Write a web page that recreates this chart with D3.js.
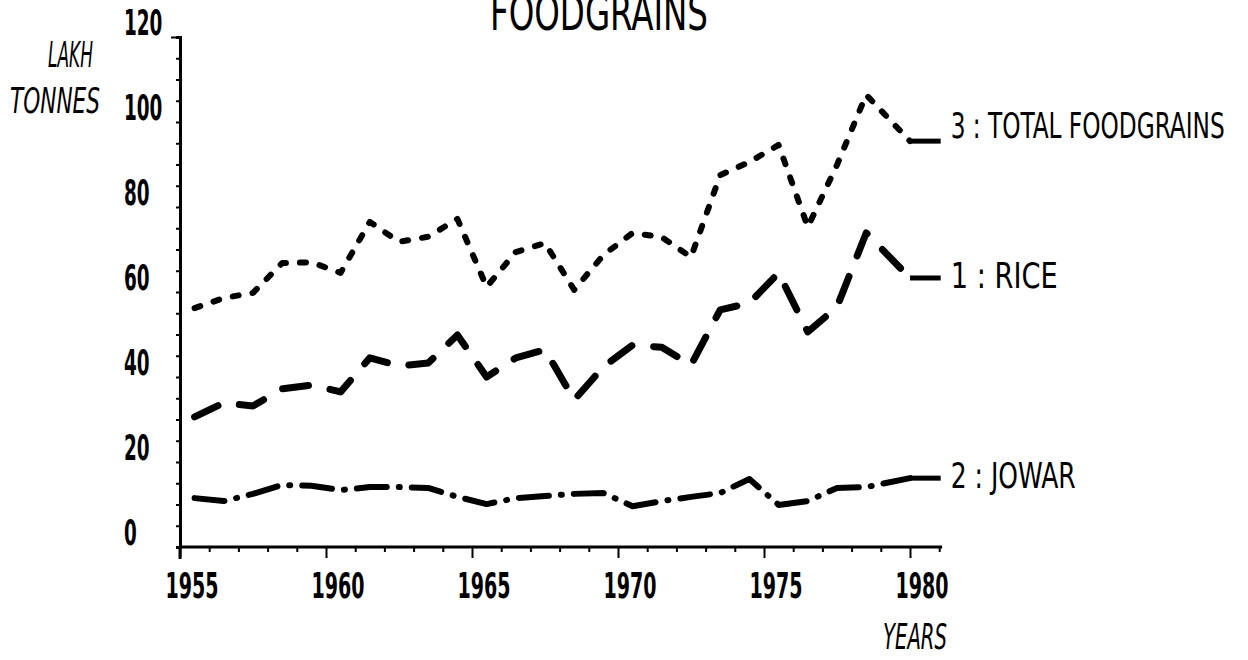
<!DOCTYPE html>
<html>
<head>
    <title>Foodgrains</title>
    <script src="https://d3js.org/d3.v7.min.js"></script>
    <style>
        body { margin: 0; background: #fff; }
        svg text { font-family: "Liberation Sans Narrow", "DejaVu Sans Condensed", "Roboto", sans-serif; fill: #000; }
    </style>
</head>
<body>
    <div id="chart"></div>
    <script>
        // crop years (plotted at mid-year), last one at 1980
        const years = [1955.5, 1956.5, 1957.5, 1958.5, 1959.5, 1960.5, 1961.5, 1962.5, 1963.5, 1964.5,
            1965.5, 1966.5, 1967.5, 1968.5, 1969.5, 1970.5, 1971.5, 1972.5, 1973.5, 1974.5,
            1975.5, 1976.5, 1977.5, 1978.5, 1980];
        const rice = [30.6, 33.9, 33.2, 37.2, 38.1, 36.5, 44.5, 42.6, 43.3, 49.9,
            40, 44.5, 46.4, 34.6, 42.4, 47.5, 47, 42.8, 55.8, 57.4,
            64.5, 50.6, 56.5, 73.9, 63.3];
        const jowar = [11.5, 10.8, 12.5, 14.6, 14.4, 13.4, 14.1, 14.1, 13.9, 11.8,
            10.1, 11.5, 12, 12.5, 12.7, 9.6, 10.8, 11.8, 12.7, 16,
            9.9, 10.8, 13.9, 14.1, 16.2];
        const total = [56.2, 58.6, 59.8, 66.8, 67, 64.5, 76.5, 71.8, 73, 77.2,
            61.2, 69.4, 71.5, 60.5, 68.7, 73.9, 72.9, 68.2, 87.5, 90.6,
            94.6, 75.3, 89.9, 106.4, 95.5];
        const seriesLabels = ["1 : RICE", "2 : JOWAR", "3 : TOTAL FOODGRAINS"];
        const yTicks = [0, 20, 40, 60, 80, 100, 120];
        const xTicks = [1955, 1960, 1965, 1970, 1975, 1980];

        const W = 1248, H = 660;
        const svg = d3.select("#chart").append("svg")
            .attr("width", W).attr("height", H);

        const x = d3.scaleLinear().domain([1955, 1980]).range([180, 910]);
        const y = d3.scaleLinear().domain([0, 120]).range([547, 37]);

        // condensed plotter-ish text, width forced with textLength
        function label(str, px, py, size, width, opts) {
            opts = opts || {};
            return svg.append("text")
                .attr("x", px).attr("y", py)
                .attr("font-size", size)
                .attr("font-weight", opts.weight || "normal")
                .attr("font-style", opts.italic ? "italic" : "normal")
                .attr("text-anchor", opts.anchor || "start")
                .attr("dominant-baseline", opts.baseline || "middle")
                .attr("textLength", width)
                .attr("lengthAdjust", "spacingAndGlyphs")
                .text(str);
        }

        // title, cut off at the top like the scan
        label("FOODGRAINS", 599, 30, 50, 218, { anchor: "middle", baseline: "alphabetic" });

        // y axis
        const yAxis = d3.axisLeft(y)
            .tickValues(d3.range(0, 121, 5))
            .tickSize(4)
            .tickFormat("");
        const gy = svg.append("g").attr("transform", "translate(180,0)").call(yAxis);
        gy.select(".domain").attr("stroke", "#000").attr("stroke-width", 3);
        gy.selectAll(".tick line").attr("stroke", "#000").attr("stroke-width", 2);
        gy.selectAll(".tick").filter(d => d === 120).select("line").attr("x2", -9);
        svg.append("line")
            .attr("x1", 180).attr("x2", 180)
            .attr("y1", y(0)).attr("y2", y(0) + 12)
            .attr("stroke", "#000").attr("stroke-width", 3);

        yTicks.forEach(v => {
            const s = String(v);
            label(s, 124, y(v) - 12, 36, s.length * 12.8, { weight: "bold" });
        });

        // x axis
        const yearTicks = d3.range(1955, 1982, 1);
        const xAxis = d3.axisBottom(x)
            .tickValues(yearTicks)
            .tickSize(5)
            .tickFormat("");
        const gx = svg.append("g").attr("transform", `translate(0,${y(0)})`).call(xAxis);
        gx.select(".domain").attr("d", `M180,0H${x(1981.1)}`)
            .attr("stroke", "#000").attr("stroke-width", 3);
        gx.selectAll(".tick line").attr("stroke", "#000").attr("stroke-width", 2)
            .attr("y2", d => d % 5 === 0 ? 11 : 5);

        xTicks.forEach(v => {
            label(String(v), x(v) + 12, 588, 36, 53, { anchor: "middle", weight: "bold" });
        });

        // axis titles
        label("LAKH", 93, 57, 36, 45, { anchor: "end", italic: true });
        label("TONNES", 100, 103, 36, 90, { anchor: "end", italic: true });
        label("YEARS", 947, 639, 36, 64, { anchor: "end", italic: true });

        // series
        const series = [
            { name: seriesLabels[0], values: rice, dash: "26,22", width: 7, lw: 107, dy: 0 },
            { name: seriesLabels[1], values: jowar, dash: "30,12,1,12", width: 6, lw: 125, dy: 0 },
            { name: seriesLabels[2], values: total, dash: "6,14", width: 6, lw: 274, dy: -13 }
        ];

        const line = d3.line()
            .x((d, i) => x(years[i]))
            .y(d => y(d));

        series.forEach(s => {
            svg.append("path")
                .datum(s.values)
                .attr("fill", "none")
                .attr("stroke", "#000")
                .attr("stroke-width", s.width)
                .attr("stroke-linecap", "round")
                .attr("stroke-linejoin", "round")
                .attr("stroke-dasharray", s.dash)
                .attr("d", line);

            const last = s.values[s.values.length - 1];
            // leader out to the label
            svg.append("line")
                .attr("x1", x(1980)).attr("x2", x(1981.05))
                .attr("y1", y(last)).attr("y2", y(last))
                .attr("stroke", "#000").attr("stroke-width", 5);

            label(s.name, x(1981.05) + 10, y(last) + s.dy, 36, s.lw);
        });
    </script>
</body>
</html>
